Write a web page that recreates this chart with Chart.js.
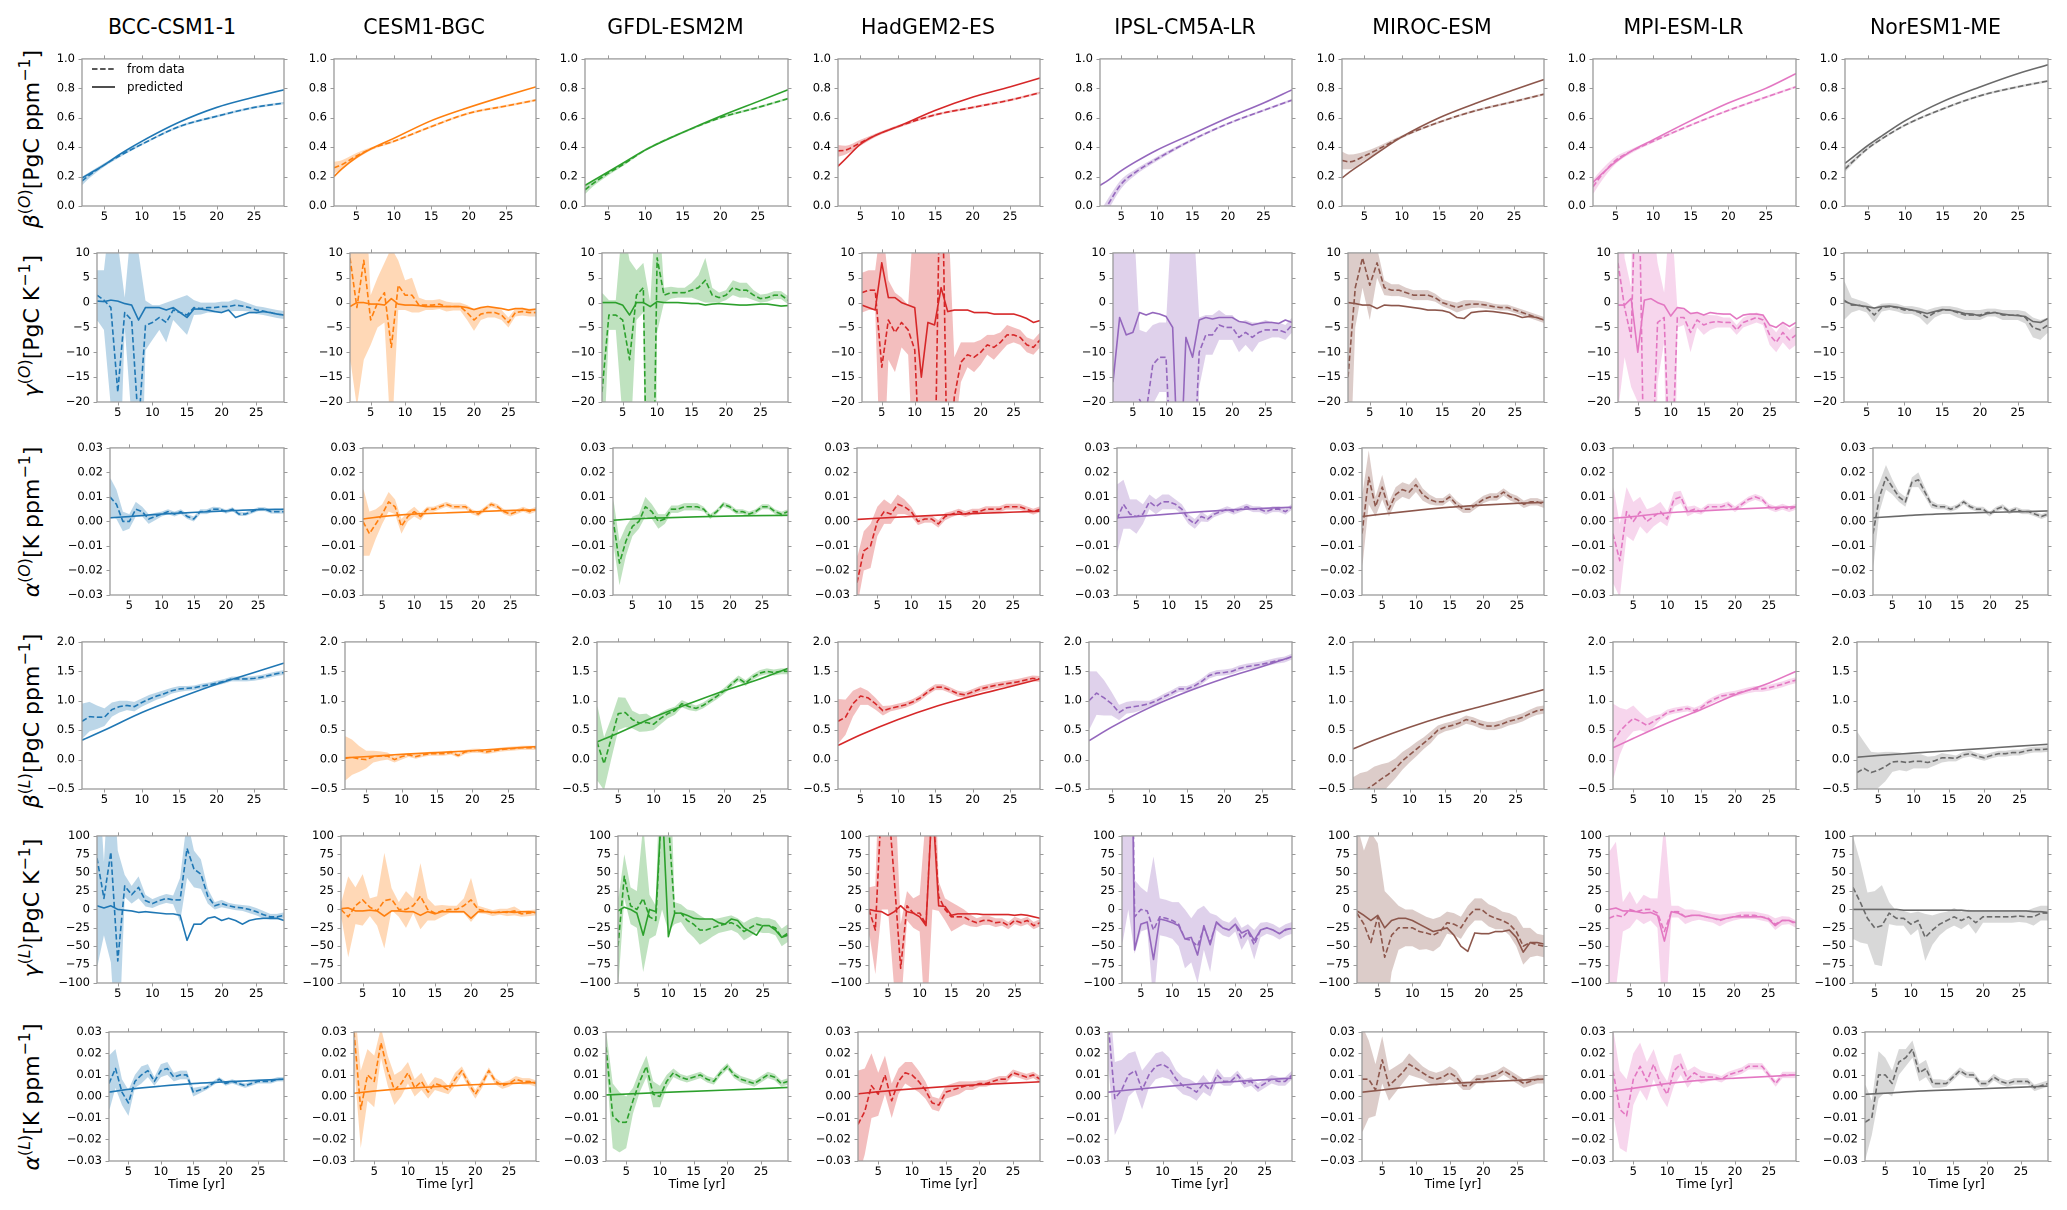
<!DOCTYPE html>
<html><head><meta charset="utf-8">
<script src="https://cdn.jsdelivr.net/npm/chart.js@4.4.1/dist/chart.umd.min.js"></script>
<style>
html,body{margin:0;padding:0;background:#fff;}
body{width:2067px;height:1210px;position:relative;overflow:hidden;font-family:"DejaVu Sans",sans-serif;color:#000;}
canvas{position:absolute;}
.title{position:absolute;font-size:20.5px;line-height:28px;text-align:center;white-space:nowrap;}
.ylab{position:absolute;font-size:22px;white-space:nowrap;transform:translate(-50%,-50%) rotate(-90deg);}
.ylab sup{font-size:72%;vertical-align:0.55em;line-height:0;}
.xlab{position:absolute;font-size:12.5px;line-height:16px;text-align:center;white-space:nowrap;}
.leg{position:absolute;font-size:11.8px;line-height:18px;white-space:nowrap;}
</style></head><body>
<script>
// ---------- categories / ticks ----------
const models = ["BCC-CSM1-1","CESM1-BGC","GFDL-ESM2M","HadGEM2-ES","IPSL-CM5A-LR","MIROC-ESM","MPI-ESM-LR","NorESM1-ME"];
const years = [2,3,4,5,6,7,8,9,10,11,12,13,14,15,16,17,18,19,20,21,22,23,24,25,26,27,28,29];
const row1Years = [2,3,5,7,10,15,20,25,29];
const smoothYears = [2,5,10,15,20,25,29];
const xTicks = [5,10,15,20,25];
const betaOTicks = [0,0.2,0.4,0.6,0.8,1.0];
const gammaOTicks = [-20,-15,-10,-5,0,5,10];
const alphaTicks = [-0.03,-0.02,-0.01,0,0.01,0.02,0.03];
const betaLTicks = [-0.5,0,0.5,1,1.5,2];
const gammaLTicks = [-100,-75,-50,-25,0,25,50,75,100];

// ---------- row 1: beta(O)  (x = row1Years) ----------
const BCC_bO_d = [0.17,0.21,0.28,0.34,0.42,0.54,0.61,0.67,0.70];
const BCC_bO_p = [0.19,0.22,0.28,0.35,0.44,0.57,0.67,0.74,0.79];
const BCC_bO_w = [0.03,0.02,0.012,0.01,0.008,0.008,0.008,0.008,0.008];
const CESM_bO_d = [0.26,0.28,0.34,0.39,0.44,0.54,0.63,0.68,0.72];
const CESM_bO_p = [0.20,0.25,0.33,0.39,0.46,0.58,0.67,0.75,0.81];
const CESM_bO_w = [0.04,0.03,0.02,0.01,0.008,0.008,0.008,0.008,0.008];
const GFDL_bO_d = [0.11,0.15,0.22,0.28,0.38,0.50,0.60,0.67,0.73];
const GFDL_bO_p = [0.14,0.17,0.23,0.29,0.38,0.50,0.61,0.71,0.79];
const GFDL_bO_w = [0.03,0.02,0.015,0.01,0.008,0.008,0.008,0.008,0.008];
const HadGEM_bO_d = [0.375,0.38,0.43,0.48,0.54,0.62,0.67,0.72,0.77];
const HadGEM_bO_p = [0.27,0.32,0.42,0.48,0.54,0.65,0.74,0.81,0.87];
const HadGEM_bO_w = [0.04,0.03,0.02,0.012,0.01,0.008,0.008,0.008,0.008];
const IPSL_bO_d = [-0.08,0.0,0.15,0.23,0.32,0.45,0.56,0.65,0.72];
const IPSL_bO_p = [0.14,0.17,0.24,0.30,0.38,0.49,0.60,0.70,0.79];
const IPSL_bO_w = [0.04,0.04,0.03,0.02,0.015,0.01,0.008,0.008,0.008];
const MIROC_bO_d = [0.31,0.30,0.34,0.39,0.47,0.57,0.65,0.71,0.76];
const MIROC_bO_p = [0.19,0.23,0.30,0.37,0.47,0.60,0.70,0.79,0.86];
const MIROC_bO_w = [0.06,0.05,0.03,0.02,0.01,0.008,0.008,0.008,0.008];
const MPI_bO_d = [0.13,0.20,0.31,0.37,0.44,0.55,0.65,0.74,0.81];
const MPI_bO_p = [0.16,0.21,0.30,0.37,0.45,0.58,0.70,0.80,0.90];
const MPI_bO_w = [0.05,0.04,0.025,0.015,0.01,0.008,0.008,0.008,0.008];
const NorESM_bO_d = [0.25,0.30,0.39,0.46,0.55,0.66,0.75,0.81,0.85];
const NorESM_bO_p = [0.29,0.33,0.41,0.48,0.58,0.71,0.81,0.90,0.96];
const NorESM_bO_w = [0.02,0.015,0.01,0.008,0.008,0.008,0.008,0.008,0.008];

// ---------- row 2: gamma(O)  (x = years) ----------
const BCC_gO_d = [1.5,0.5,-1,-18,-2,-3.5,-25,-4.6,-4,-3,-4,-1.5,-2,-2.5,-1,-1.2,-1,-1,-0.8,-0.8,-0.5,-0.7,-1,-1.5,-1.7,-2,-2.3,-2.5];
const BCC_gO_p = [0.3,0.2,0.5,0.3,-0.2,-0.5,-3.5,-1,-1,-1,-1.5,-1,-2,-3,-1.3,-1.3,-1.5,-1.8,-2,-1.5,-3,-2.5,-2,-2,-1.8,-2,-2.3,-2.5];
const BCC_gO_w = [5,6,20,30,3,20,35,5,3.5,2.5,4,2,3,4,1.5,1.2,1,1,1,1,1.2,1,0.8,0.8,0.8,0.8,0.8,0.8];
const CESM_gO_d = [9,-1,8.5,-3.5,0,2,-9,3.5,1.5,1.5,-0.5,-0.5,-0.5,-0.3,-0.8,-0.8,-0.8,-2,-3.5,-2.3,-2,-2,-2.5,-4,-2,-1.8,-2,-2];
const CESM_gO_p = [-0.8,0,0,-0.3,-0.3,-0.5,0.8,-0.3,-0.5,-0.5,-0.6,-0.8,-0.8,-0.8,-0.8,-0.8,-0.8,-1,-1.4,-1,-0.8,-1,-1.2,-1.5,-1.2,-1.2,-1.5,-1.3];
const CESM_gO_w = [20,20,20,5,5,6,20,5,3,3.5,1.5,1,1,1,1,0.8,0.8,1.5,2.2,1.2,1,1,1,1,0.8,0.8,0.8,0.8];
const GFDL_gO_d = [-18,-2.5,-2.5,-3.5,-11.5,1.5,3,-80,9,1.5,2,2,2,2.5,3,4.5,1.5,1,1.5,3,2.5,2.5,1.5,0.8,1,1.5,1.5,0.5];
const GFDL_gO_p = [0,0,0,-0.5,-2.5,0,0,-0.8,0.2,0,0,0,-0.1,-0.2,-0.2,-0.5,-0.3,-0.2,-0.3,-0.4,-0.5,-0.5,-0.4,-0.3,-0.3,-0.5,-0.7,-0.6];
const GFDL_gO_w = [20,3,3,20,20,5,5,80,15,1.5,1.2,1,1,1.5,2.5,4.5,1.5,1,1,1.5,1.5,1.5,1,0.8,0.8,0.8,0.8,0.8];
const HadGEM_gO_d = [2,2.5,2.5,-13,-3.5,-6,-4,-5.5,-9.5,-40,-40,-40,40,-40,-19,-12,-10.5,-11,-10,-8.5,-9,-8,-6.5,-6.5,-7,-8.5,-9,-7.5];
const HadGEM_gO_p = [-0.5,-1,-1.5,8,1,1,0,-0.5,-1,-15,-4,-4.5,3,-1.8,-1.5,-1.5,-1.5,-2,-2,-2,-2.3,-2.3,-2.3,-2.3,-2.7,-3.2,-4,-3.6];
const HadGEM_gO_w = [4,4,4,30,8,8,5,5,30,60,60,60,60,60,8,4,2.5,3,2.5,2,2.5,2,2,1.5,1.5,1.5,1.5,1.5];
const IPSL_gO_d = [-40,-40,-40,-40,-19.5,-22,-12.5,-11,-11,-40,-40,-40,-40,-10,-6.5,-6.5,-4.5,-5,-5,-7,-6,-7,-6,-5.5,-5.5,-5.5,-6,-4.5];
const IPSL_gO_p = [-16,-3,-6.5,-6,-2,-2.5,-2,-2.3,-2.8,-5,-40,-7,-11,-3.5,-3,-3.3,-3,-3,-3,-3.8,-4,-4.5,-4.2,-4,-4,-4.2,-3.5,-4];
const IPSL_gO_w = [60,60,60,60,14,16,8,7,7,60,60,60,60,7,4,4,3,2.5,2.5,3,2.5,3,2,2,1.5,1.5,1.5,1.5];
const MIROC_gO_d = [-15,3,9,3.5,8,3,2.5,2.5,2,1.5,1.5,1.5,1,0,-0.5,-1,-0.5,-0.3,-0.3,-0.5,-0.8,-1,-1,-1.5,-2,-2.5,-3,-3.5];
const MIROC_gO_p = [0,-0.2,-0.5,-0.5,-1.2,-0.5,-0.6,-0.6,-0.8,-1,-1.2,-1.5,-1.5,-1.6,-2,-3,-3.2,-2,-1.8,-1.7,-1.8,-2,-2.2,-2.5,-3,-2.8,-3,-3.5];
const MIROC_gO_w = [30,8,6,7,3,1.5,1.2,1.2,1,1,1,1,0.8,0.7,0.8,1,1,0.8,0.7,0.7,0.6,0.6,0.6,0.6,0.6,0.6,0.6,0.6];
const MPI_gO_d = [8,-1,-7,40,-40,-40,-4,-3,-40,-3,-3,-6,-3.5,-4.5,-4,-3.8,-4,-4,-5.5,-4,-3.5,-3,-3.5,-6.5,-8,-6,-7.5,-6.5];
const MPI_gO_p = [-0.5,-0.5,0.8,-10,0.5,0.8,0,-0.5,-2.7,-1,-1.2,-2.2,-2,-2.5,-2,-2.2,-2.3,-2.3,-3.3,-2.5,-2.3,-2.3,-2.5,-4.5,-5,-4,-4.8,-4];
const MPI_gO_w = [30,10,10,60,60,60,12,5,60,2,1.5,4,1.5,2,1.5,1.2,1,1,1,1,1,1,1,2,2,2,2,2];
const NorESM_gO_d = [0.5,-0.5,-0.5,-1,-2.5,-1,-0.8,-1,-1.5,-1.5,-2,-3,-2,-1.5,-1.5,-2,-2.5,-2.5,-2.5,-2,-2,-2.5,-2.5,-2.5,-3,-5,-5.5,-4.5];
const NorESM_gO_p = [0.3,-0.3,-0.6,-0.8,-1.1,-0.8,-0.7,-0.9,-1.2,-1.5,-1.8,-2.2,-1.8,-1.4,-1.5,-1.8,-2.2,-2.3,-2.7,-2.2,-2,-2.3,-2.5,-2.6,-2.8,-3.8,-4,-3.2];
const NorESM_gO_w = [4,1.5,1,1,1.5,0.8,0.7,0.8,0.8,0.8,1,1.5,1,0.8,0.8,1,1,1,1,0.8,0.8,1,1,1,1.2,2,2,1.5];

// ---------- row 3: alpha(O)  (data x = years, predicted x = smoothYears) ----------
const BCC_aO_d = [0.010,0.007,0.000,0.000,0.005,0.004,0.001,0.002,0.003,0.004,0.003,0.004,0.002,0.001,0.004,0.004,0.005,0.005,0.004,0.005,0.003,0.003,0.004,0.005,0.005,0.004,0.004,0.004];
const BCC_aO_p = [0.0015,0.002,0.003,0.0037,0.0043,0.0048,0.005];
const BCC_aO_w = [0.008,0.006,0.004,0.003,0.003,0.002,0.002,0.0015,0.001,0.001,0.001,0.001,0.001,0.001,0.001,0.001,0.001,0.0008,0.0008,0.0008,0.0008,0.0008,0.0008,0.0008,0.0008,0.0008,0.0008,0.0008];
const CESM_aO_d = [0.000,-0.005,-0.001,0.003,0.008,0.006,-0.002,0.002,0.004,0.002,0.005,0.005,0.006,0.007,0.006,0.006,0.006,0.004,0.003,0.005,0.007,0.006,0.004,0.003,0.004,0.005,0.004,0.005];
const CESM_aO_p = [0.001,0.002,0.003,0.0035,0.004,0.0045,0.0047];
const CESM_aO_w = [0.014,0.009,0.006,0.004,0.004,0.003,0.003,0.002,0.002,0.0015,0.001,0.001,0.001,0.001,0.001,0.001,0.001,0.001,0.001,0.001,0.001,0.001,0.001,0.001,0.001,0.001,0.001,0.001];
const GFDL_aO_d = [0.001,-0.017,-0.008,-0.002,0.000,0.006,0.004,0.000,0.001,0.005,0.005,0.006,0.006,0.006,0.005,0.002,0.004,0.007,0.006,0.004,0.004,0.003,0.004,0.006,0.006,0.004,0.003,0.004];
const GFDL_aO_p = [0.0005,0.001,0.0015,0.0019,0.0022,0.0024,0.0025];
const GFDL_aO_w = [0.009,0.009,0.006,0.004,0.003,0.004,0.003,0.003,0.002,0.0015,0.0015,0.0015,0.0015,0.0015,0.001,0.001,0.001,0.001,0.001,0.001,0.001,0.001,0.001,0.001,0.001,0.001,0.001,0.001];
const HadGEM_aO_d = [-0.025,-0.012,-0.010,0.000,0.004,0.003,0.007,0.006,0.004,0.000,0.001,0.001,-0.001,0.002,0.003,0.004,0.003,0.004,0.004,0.005,0.005,0.005,0.006,0.006,0.006,0.005,0.004,0.005];
const HadGEM_aO_p = [0.0008,0.0013,0.002,0.0027,0.0033,0.0038,0.0042];
const HadGEM_aO_w = [0.01,0.008,0.009,0.006,0.005,0.004,0.004,0.003,0.002,0.0015,0.0015,0.0015,0.0015,0.0015,0.0012,0.0012,0.0012,0.0012,0.0012,0.0012,0.0012,0.0012,0.0012,0.0012,0.0012,0.0012,0.0012,0.0012];
const IPSL_aO_d = [0.001,0.007,0.003,0.002,0.003,0.008,0.006,0.008,0.008,0.007,0.005,0.001,-0.001,0.002,0.001,0.003,0.004,0.005,0.004,0.005,0.006,0.005,0.005,0.004,0.005,0.005,0.004,0.006];
const IPSL_aO_p = [0.0015,0.002,0.003,0.004,0.0048,0.0054,0.0058];
const IPSL_aO_w = [0.014,0.01,0.006,0.007,0.004,0.003,0.003,0.003,0.003,0.002,0.002,0.002,0.002,0.002,0.0012,0.0012,0.0012,0.0012,0.0012,0.0012,0.0012,0.0012,0.0012,0.0012,0.0012,0.0012,0.0012,0.0012];
const MIROC_aO_d = [-0.005,0.018,0.006,0.014,0.005,0.011,0.013,0.012,0.015,0.011,0.009,0.008,0.008,0.010,0.007,0.005,0.005,0.007,0.009,0.010,0.010,0.012,0.010,0.009,0.007,0.008,0.008,0.007];
const MIROC_aO_p = [0.002,0.003,0.0045,0.0058,0.0067,0.0074,0.0078];
const MIROC_aO_w = [0.015,0.011,0.004,0.005,0.003,0.003,0.003,0.003,0.003,0.0025,0.002,0.0015,0.0015,0.0015,0.0015,0.0015,0.0015,0.0015,0.0015,0.0015,0.0015,0.0015,0.0015,0.0015,0.0015,0.0015,0.0015,0.0015];
const MPI_aO_d = [-0.005,-0.016,0.004,0.000,0.004,0.000,0.002,0.004,0.001,0.009,0.010,0.004,0.005,0.004,0.006,0.006,0.006,0.007,0.005,0.007,0.009,0.010,0.009,0.006,0.005,0.006,0.005,0.006];
const MPI_aO_p = [0.0013,0.002,0.0035,0.0043,0.005,0.0056,0.006];
const MPI_aO_w = [0.02,0.015,0.01,0.008,0.006,0.005,0.004,0.004,0.003,0.003,0.0025,0.002,0.0015,0.0012,0.0012,0.0012,0.0012,0.0012,0.0012,0.0012,0.0012,0.0012,0.0012,0.0012,0.0012,0.0012,0.0012,0.0012];
const NorESM_aO_d = [-0.005,0.010,0.018,0.014,0.010,0.008,0.016,0.017,0.012,0.007,0.006,0.006,0.005,0.006,0.008,0.006,0.005,0.005,0.003,0.005,0.006,0.004,0.005,0.004,0.004,0.003,0.002,0.003];
const NorESM_aO_p = [0.0015,0.002,0.0028,0.0033,0.0037,0.004,0.0043];
const NorESM_aO_w = [0.015,0.006,0.005,0.003,0.002,0.002,0.002,0.003,0.002,0.0015,0.001,0.001,0.001,0.001,0.001,0.001,0.001,0.001,0.001,0.001,0.001,0.001,0.001,0.001,0.001,0.001,0.001,0.001];

// ---------- row 4: beta(L) ----------
const BCC_bL_d = [0.65,0.73,0.72,0.72,0.85,0.90,0.92,0.90,0.97,1.03,1.08,1.12,1.17,1.20,1.21,1.22,1.25,1.27,1.30,1.33,1.37,1.37,1.37,1.38,1.40,1.43,1.46,1.48];
const BCC_bL_p = [0.33,0.50,0.80,1.05,1.28,1.48,1.64];
const BCC_bL_w = [0.3,0.25,0.2,0.15,0.12,0.1,0.08,0.08,0.07,0.07,0.06,0.06,0.05,0.05,0.04,0.04,0.04,0.04,0.04,0.04,0.04,0.04,0.04,0.04,0.04,0.04,0.04,0.04];
const CESM_bL_d = [0.02,0.04,0.01,0.0,0.05,0.06,0.06,0.0,0.05,0.08,0.05,0.08,0.10,0.10,0.10,0.12,0.07,0.13,0.15,0.15,0.13,0.15,0.17,0.18,0.19,0.20,0.20,0.20];
const CESM_bL_p = [0.03,0.05,0.09,0.12,0.15,0.19,0.22];
const CESM_bL_w = [0.38,0.3,0.22,0.15,0.1,0.08,0.06,0.05,0.05,0.035,0.035,0.035,0.035,0.035,0.035,0.035,0.035,0.035,0.035,0.035,0.035,0.035,0.035,0.035,0.035,0.035,0.035,0.035];
const GFDL_bL_d = [0.30,-0.07,0.35,0.78,0.80,0.68,0.62,0.63,0.60,0.70,0.78,0.83,0.95,0.90,0.87,0.92,1.00,1.08,1.17,1.28,1.38,1.30,1.40,1.47,1.50,1.48,1.50,1.50];
const GFDL_bL_p = [0.30,0.45,0.72,0.95,1.17,1.37,1.55];
const GFDL_bL_w = [0.65,0.45,0.35,0.28,0.25,0.15,0.15,0.15,0.1,0.1,0.08,0.07,0.06,0.06,0.05,0.05,0.05,0.05,0.05,0.05,0.05,0.05,0.05,0.05,0.05,0.05,0.05,0.05];
const HadGEM_bL_d = [0.65,0.72,0.95,1.08,1.05,0.95,0.83,0.87,0.90,0.93,0.98,1.05,1.15,1.23,1.23,1.18,1.12,1.10,1.15,1.20,1.23,1.26,1.28,1.30,1.32,1.35,1.38,1.37];
const HadGEM_bL_p = [0.24,0.42,0.68,0.90,1.08,1.24,1.37];
const HadGEM_bL_w = [0.38,0.3,0.22,0.15,0.12,0.1,0.08,0.05,0.05,0.05,0.05,0.05,0.05,0.05,0.05,0.05,0.05,0.05,0.05,0.05,0.05,0.05,0.05,0.05,0.05,0.05,0.05,0.05];
const IPSL_bL_d = [1.0,1.13,1.05,0.95,0.80,0.88,0.90,0.92,0.95,1.0,1.07,1.13,1.20,1.20,1.25,1.33,1.43,1.47,1.48,1.50,1.55,1.58,1.60,1.62,1.65,1.68,1.70,1.75];
const IPSL_bL_p = [0.32,0.55,0.88,1.15,1.38,1.58,1.75];
const IPSL_bL_w = [0.5,0.37,0.3,0.2,0.13,0.1,0.1,0.08,0.05,0.05,0.05,0.05,0.05,0.05,0.05,0.05,0.05,0.05,0.05,0.05,0.05,0.05,0.05,0.05,0.05,0.05,0.05,0.05];
const MIROC_bL_d = [-0.7,-0.6,-0.5,-0.42,-0.33,-0.25,-0.15,-0.02,0.08,0.18,0.28,0.38,0.50,0.55,0.58,0.62,0.68,0.65,0.60,0.57,0.57,0.60,0.65,0.68,0.72,0.78,0.83,0.85];
const MIROC_bL_p = [0.18,0.33,0.55,0.74,0.90,1.06,1.19];
const MIROC_bL_w = [0.4,0.37,0.3,0.3,0.25,0.2,0.17,0.15,0.13,0.12,0.1,0.1,0.08,0.07,0.07,0.07,0.07,0.07,0.07,0.07,0.07,0.07,0.07,0.07,0.07,0.07,0.07,0.07];
const MPI_bL_d = [0.30,0.48,0.60,0.70,0.65,0.58,0.65,0.72,0.80,0.83,0.85,0.87,0.83,0.88,0.97,1.03,1.08,1.10,1.12,1.15,1.18,1.20,1.20,1.22,1.25,1.28,1.32,1.35];
const MPI_bL_p = [0.20,0.36,0.62,0.85,1.10,1.30,1.50];
const MPI_bL_w = [0.65,0.4,0.25,0.22,0.15,0.12,0.1,0.05,0.05,0.05,0.05,0.05,0.05,0.05,0.05,0.05,0.05,0.05,0.05,0.05,0.05,0.05,0.05,0.05,0.05,0.05,0.05,0.05];
const NorESM_bL_d = [-0.22,-0.15,-0.22,-0.18,-0.12,-0.04,-0.03,-0.05,-0.03,-0.03,-0.05,-0.02,0.03,0.03,0.02,0.08,0.10,0.06,0.03,0.07,0.10,0.10,0.12,0.12,0.15,0.17,0.17,0.18];
const NorESM_bL_p = [0.04,0.07,0.11,0.15,0.19,0.23,0.26];
const NorESM_bL_w = [0.7,0.45,0.35,0.3,0.25,0.17,0.15,0.15,0.12,0.12,0.1,0.08,0.08,0.06,0.05,0.05,0.05,0.05,0.05,0.05,0.05,0.05,0.05,0.05,0.05,0.05,0.05,0.05];

// ---------- row 5: gamma(L) ----------
const BCC_gL_d = [70,15,78,-70,32,20,30,12,8,12,15,13,13,83,55,48,18,5,8,5,3,2,0,-3,-7,-10,-10,-8];
const BCC_gL_p = [5,2,5,0,-1,-2,-4,-3,-4,-5,-6,-6,-8,-42,-20,-20,-12,-10,-15,-12,-15,-20,-15,-13,-12,-12,-12,-15];
const BCC_gL_w = [150,50,150,150,15,12,15,8,6,6,6,6,30,40,25,20,10,5,5,4,4,4,5,5,5,4,4,4];
const CESM_gL_d = [0,-10,5,13,3,-2,12,14,0,0,5,18,0,-5,-2,0,0,5,13,0,-2,-5,-3,-4,-2,-6,-5,-4];
const CESM_gL_p = [1,2,-2,-2,-1,-2,-9,-2,-2,-3,-3,-8,-3,-6,-3,-3,-3,-3,-12,-3,-3,-4,-4,-3,-4,-3,-3,-4];
const CESM_gL_w = [8,55,25,35,12,20,65,15,10,25,10,45,15,10,8,5,5,10,30,5,4,4,4,5,6,4,4,4];
const GFDL_gL_d = [-50,45,5,0,15,-10,-15,150,120,-5,-5,-15,-20,-28,-28,-25,-22,-20,-18,-22,-30,-25,-20,-22,-22,-25,-38,-32];
const GFDL_gL_p = [-2,3,0,-5,-35,0,-3,150,-37,-5,-5,-8,-12,-13,-13,-13,-18,-20,-13,-15,-25,-30,-35,-22,-22,-28,-38,-35];
const GFDL_gL_w = [60,30,25,25,100,30,20,150,150,15,12,15,18,20,15,12,10,10,10,10,12,12,10,10,10,10,12,12];
const HadGEM_gL_d = [0,-28,150,150,40,-80,5,-5,-5,-20,150,18,0,-10,-10,-10,-15,-18,-15,-15,-18,-17,-22,-15,-18,-15,-22,-18];
const HadGEM_gL_p = [0,-2,-3,-8,-3,5,-3,-5,-10,-22,150,5,4,-8,-6,-6,-6,-6,-7,-7,-7,-7,-7,-8,-7,-8,-10,-12];
const HadGEM_gL_w = [30,60,150,150,150,60,20,20,25,150,150,20,15,20,15,10,8,6,6,6,6,5,5,5,5,5,5,5];
const IPSL_gL_d = [150,600,-10,0,-2,-28,-10,-12,-15,-20,-40,-42,-50,-25,-45,-18,-25,-28,-20,-40,-30,-48,-28,-25,-28,-33,-28,-25];
const IPSL_gL_p = [150,600,-55,-20,-17,-68,-13,-15,-18,-22,-40,-38,-62,-22,-48,-17,-25,-28,-20,-32,-28,-42,-28,-25,-28,-33,-27,-26];
const IPSL_gL_w = [200,600,50,30,25,100,25,25,25,30,40,30,50,30,40,10,10,10,10,15,10,20,10,8,8,8,8,8];
const MIROC_gL_d = [-5,-20,-45,-10,-65,-35,-25,-25,-25,-30,-32,-35,-30,-18,-20,-25,-10,0,0,-8,-12,-15,-20,-30,-50,-45,-48,-50];
const MIROC_gL_p = [-2,-8,-15,-8,-25,-15,-12,-12,-15,-20,-25,-30,-28,-25,-35,-50,-57,-32,-33,-33,-30,-30,-28,-38,-58,-45,-45,-47];
const MIROC_gL_w = [120,100,150,100,90,50,30,25,25,25,22,22,20,15,15,15,15,15,15,15,15,12,15,20,25,20,15,15];
const MPI_gL_d = [-12,-8,-10,0,-3,0,0,-5,-30,-3,-3,-10,-8,-8,-10,-12,-15,-12,-10,-8,-8,-8,-10,-12,-20,-15,-15,-20];
const MPI_gL_p = [0,2,-2,-2,-3,-5,-4,-8,-43,-3,-5,-10,-8,-8,-10,-12,-14,-12,-10,-10,-10,-10,-10,-13,-22,-15,-15,-18];
const MPI_gL_w = [90,100,20,25,10,20,15,20,150,8,8,10,8,6,6,6,8,6,5,5,5,5,5,5,8,6,5,5];
const NorESM_gL_d = [30,10,-12,-25,-22,-5,-12,-12,-20,-15,-38,-28,-20,-15,-10,-15,-10,-18,-10,-10,-10,-10,-10,-9,-10,-10,-5,-5];
const NorESM_gL_p = [0,0,0,0,0,0,0,-1,-1,-1,-1,-1,-1,-1,-1,-1,-2,-2,-2,-2,-2,-2,-2,-2,-2,-3,-3,-4];
const NorESM_gL_w = [70,55,35,50,55,15,10,10,15,12,32,20,15,12,12,12,10,15,8,8,8,8,8,8,8,12,10,10];

// ---------- row 6: alpha(L) ----------
const BCC_aL_d = [0.006,0.013,0.002,-0.003,0.007,0.010,0.012,0.007,0.012,0.013,0.009,0.010,0.010,0.002,0.003,0.004,0.006,0.008,0.006,0.007,0.006,0.005,0.006,0.007,0.007,0.007,0.008,0.008];
const BCC_aL_p = [0.002,0.0033,0.0048,0.006,0.0068,0.0075,0.008];
const BCC_aL_w = [0.013,0.009,0.006,0.006,0.003,0.004,0.003,0.002,0.003,0.003,0.002,0.002,0.002,0.002,0.0015,0.001,0.001,0.001,0.001,0.001,0.001,0.001,0.001,0.001,0.001,0.001,0.001,0.001];
const CESM_aL_d = [0.030,-0.006,0.010,0.007,0.025,0.012,0.003,0.006,0.011,0.004,0.007,0.002,0.006,0.005,0.003,0.008,0.012,0.006,0.001,0.006,0.012,0.007,0.005,0.006,0.008,0.007,0.007,0.006];
const CESM_aL_p = [0.0015,0.0025,0.0038,0.0047,0.0055,0.006,0.0065];
const CESM_aL_w = [0.015,0.018,0.012,0.012,0.007,0.007,0.007,0.006,0.005,0.004,0.004,0.003,0.003,0.003,0.002,0.003,0.002,0.002,0.002,0.002,0.0015,0.0015,0.0015,0.0015,0.0015,0.0015,0.0015,0.0015];
const GFDL_aL_d = [0.023,-0.009,-0.012,-0.012,-0.002,0.007,0.014,0.001,0.000,0.007,0.011,0.009,0.008,0.009,0.010,0.008,0.007,0.011,0.014,0.010,0.008,0.007,0.006,0.008,0.010,0.009,0.006,0.007];
const GFDL_aL_p = [0.0007,0.0011,0.0018,0.0024,0.003,0.0036,0.0042];
const GFDL_aL_w = [0.008,0.015,0.014,0.012,0.006,0.005,0.005,0.006,0.005,0.003,0.002,0.0015,0.0015,0.0015,0.0015,0.0015,0.0015,0.0015,0.0015,0.0015,0.0015,0.0015,0.0015,0.0015,0.0015,0.0015,0.0015,0.0015];
const HadGEM_aL_d = [-0.013,-0.007,0.005,0.001,0.010,-0.002,0.007,0.011,0.010,0.007,0.003,-0.003,-0.004,0.002,0.003,0.004,0.005,0.005,0.006,0.006,0.007,0.008,0.008,0.011,0.010,0.009,0.010,0.008];
const HadGEM_aL_p = [0.0012,0.0022,0.0035,0.0046,0.0055,0.0062,0.0068];
const HadGEM_aL_w = [0.025,0.02,0.015,0.01,0.009,0.008,0.006,0.005,0.006,0.005,0.004,0.003,0.003,0.003,0.003,0.003,0.002,0.002,0.0015,0.0015,0.0015,0.0015,0.0015,0.0015,0.0015,0.0015,0.0015,0.0015];
const IPSL_aL_d = [0.035,-0.001,0.003,0.010,0.012,0.003,0.010,0.014,0.015,0.013,0.008,0.005,0.004,0.002,0.006,0.003,0.010,0.007,0.007,0.010,0.006,0.007,0.004,0.006,0.008,0.007,0.007,0.010];
const IPSL_aL_p = [0.002,0.003,0.0045,0.0058,0.0068,0.0078,0.0085];
const IPSL_aL_w = [0.02,0.017,0.014,0.01,0.009,0.009,0.006,0.006,0.006,0.005,0.004,0.004,0.004,0.004,0.004,0.003,0.003,0.002,0.002,0.002,0.002,0.002,0.002,0.002,0.002,0.002,0.002,0.002];
const MIROC_aL_d = [0.008,0.008,0.003,0.017,0.005,0.008,0.011,0.015,0.013,0.011,0.009,0.008,0.009,0.011,0.009,0.005,0.005,0.008,0.008,0.009,0.010,0.012,0.010,0.008,0.006,0.007,0.008,0.008];
const MIROC_aL_p = [0.002,0.003,0.0048,0.006,0.0068,0.0075,0.008];
const MIROC_aL_w = [0.025,0.018,0.012,0.011,0.007,0.006,0.005,0.005,0.004,0.003,0.003,0.003,0.003,0.003,0.003,0.002,0.002,0.002,0.002,0.002,0.002,0.002,0.002,0.002,0.002,0.002,0.002,0.002];
const MPI_aL_d = [0.012,-0.006,-0.009,0.008,0.014,0.007,0.015,0.006,0.001,0.012,0.015,0.008,0.011,0.009,0.009,0.009,0.008,0.010,0.011,0.012,0.014,0.014,0.014,0.010,0.006,0.010,0.010,0.010];
const MPI_aL_p = [0.0025,0.0038,0.006,0.0075,0.0085,0.0093,0.010];
const MPI_aL_w = [0.02,0.018,0.017,0.012,0.011,0.009,0.007,0.006,0.006,0.007,0.005,0.004,0.003,0.003,0.002,0.0015,0.0015,0.0015,0.0015,0.0015,0.0015,0.0015,0.0015,0.0015,0.0015,0.0015,0.0015,0.0015];
const NorESM_aL_d = [-0.012,-0.010,0.010,0.010,0.006,0.016,0.018,0.022,0.011,0.013,0.006,0.006,0.006,0.009,0.012,0.010,0.010,0.006,0.006,0.009,0.007,0.006,0.007,0.007,0.007,0.004,0.005,0.006];
const NorESM_aL_p = [0.001,0.0015,0.0025,0.0031,0.0037,0.0043,0.0048];
const NorESM_aL_w = [0.018,0.008,0.011,0.008,0.006,0.006,0.004,0.004,0.004,0.004,0.002,0.002,0.0015,0.0015,0.0015,0.0015,0.0015,0.0015,0.0015,0.0015,0.0015,0.0015,0.0015,0.0015,0.0015,0.0015,0.0015,0.0015];

// ---------- table built from the arrays ----------
const table = {
  bO: [[BCC_bO_d,BCC_bO_p,BCC_bO_w],[CESM_bO_d,CESM_bO_p,CESM_bO_w],[GFDL_bO_d,GFDL_bO_p,GFDL_bO_w],[HadGEM_bO_d,HadGEM_bO_p,HadGEM_bO_w],[IPSL_bO_d,IPSL_bO_p,IPSL_bO_w],[MIROC_bO_d,MIROC_bO_p,MIROC_bO_w],[MPI_bO_d,MPI_bO_p,MPI_bO_w],[NorESM_bO_d,NorESM_bO_p,NorESM_bO_w]],
  gO: [[BCC_gO_d,BCC_gO_p,BCC_gO_w],[CESM_gO_d,CESM_gO_p,CESM_gO_w],[GFDL_gO_d,GFDL_gO_p,GFDL_gO_w],[HadGEM_gO_d,HadGEM_gO_p,HadGEM_gO_w],[IPSL_gO_d,IPSL_gO_p,IPSL_gO_w],[MIROC_gO_d,MIROC_gO_p,MIROC_gO_w],[MPI_gO_d,MPI_gO_p,MPI_gO_w],[NorESM_gO_d,NorESM_gO_p,NorESM_gO_w]],
  aO: [[BCC_aO_d,BCC_aO_p,BCC_aO_w],[CESM_aO_d,CESM_aO_p,CESM_aO_w],[GFDL_aO_d,GFDL_aO_p,GFDL_aO_w],[HadGEM_aO_d,HadGEM_aO_p,HadGEM_aO_w],[IPSL_aO_d,IPSL_aO_p,IPSL_aO_w],[MIROC_aO_d,MIROC_aO_p,MIROC_aO_w],[MPI_aO_d,MPI_aO_p,MPI_aO_w],[NorESM_aO_d,NorESM_aO_p,NorESM_aO_w]],
  bL: [[BCC_bL_d,BCC_bL_p,BCC_bL_w],[CESM_bL_d,CESM_bL_p,CESM_bL_w],[GFDL_bL_d,GFDL_bL_p,GFDL_bL_w],[HadGEM_bL_d,HadGEM_bL_p,HadGEM_bL_w],[IPSL_bL_d,IPSL_bL_p,IPSL_bL_w],[MIROC_bL_d,MIROC_bL_p,MIROC_bL_w],[MPI_bL_d,MPI_bL_p,MPI_bL_w],[NorESM_bL_d,NorESM_bL_p,NorESM_bL_w]],
  gL: [[BCC_gL_d,BCC_gL_p,BCC_gL_w],[CESM_gL_d,CESM_gL_p,CESM_gL_w],[GFDL_gL_d,GFDL_gL_p,GFDL_gL_w],[HadGEM_gL_d,HadGEM_gL_p,HadGEM_gL_w],[IPSL_gL_d,IPSL_gL_p,IPSL_gL_w],[MIROC_gL_d,MIROC_gL_p,MIROC_gL_w],[MPI_gL_d,MPI_gL_p,MPI_gL_w],[NorESM_gL_d,NorESM_gL_p,NorESM_gL_w]],
  aL: [[BCC_aL_d,BCC_aL_p,BCC_aL_w],[CESM_aL_d,CESM_aL_p,CESM_aL_w],[GFDL_aL_d,GFDL_aL_p,GFDL_aL_w],[HadGEM_aL_d,HadGEM_aL_p,HadGEM_aL_w],[IPSL_aL_d,IPSL_aL_p,IPSL_aL_w],[MIROC_aL_d,MIROC_aL_p,MIROC_aL_w],[MPI_aL_d,MPI_aL_p,MPI_aL_w],[NorESM_aL_d,NorESM_aL_p,NorESM_aL_w]]
};

// ---------- styles & layout ----------
const lineColors = ["#1f77b4","#ff7f0e","#2ca02c","#d62728","#9467bd","#8c564b","#e377c2","#6a6a6a"];
const bandColors = ["rgba(31,119,180,0.3)","rgba(255,127,14,0.3)","rgba(44,160,44,0.3)","rgba(214,39,40,0.3)","rgba(148,103,189,0.3)","rgba(140,86,75,0.3)","rgba(227,119,194,0.3)","rgba(127,127,127,0.3)"];
const rows = [
  {key:'bO', dX: row1Years, pX: row1Years, min:0, max:1, ticks: betaOTicks, dec:1, smoothD:true, smoothP:true, labShift:9,
   label:'<i>β</i><sup>(<i>O</i>)</sup>[PgC ppm<sup>−1</sup>]'},
  {key:'gO', dX: years, pX: years, min:-20, max:10, ticks: gammaOTicks, dec:0, smoothD:false, smoothP:false, labShift:1,
   label:'<i>γ</i><sup>(<i>O</i>)</sup>[PgC K<sup>−1</sup>]'},
  {key:'aO', dX: years, pX: smoothYears, min:-0.03, max:0.03, ticks: alphaTicks, dec:2, smoothD:false, smoothP:true, labShift:3,
   label:'<i>α</i><sup>(<i>O</i>)</sup>[K ppm<sup>−1</sup>]'},
  {key:'bL', dX: years, pX: smoothYears, min:-0.5, max:2, ticks: betaLTicks, dec:1, smoothD:false, smoothP:true, labShift:8,
   label:'<i>β</i><sup>(<i>L</i>)</sup>[PgC ppm<sup>−1</sup>]'},
  {key:'gL', dX: years, pX: years, min:-100, max:100, ticks: gammaLTicks, dec:0, smoothD:false, smoothP:false, labShift:1,
   label:'<i>γ</i><sup>(<i>L</i>)</sup>[PgC K<sup>−1</sup>]'},
  {key:'aL', dX: years, pX: smoothYears, min:-0.03, max:0.03, ticks: alphaTicks, dec:2, smoothD:false, smoothP:true, labShift:3,
   label:'<i>α</i><sup>(<i>L</i>)</sup>[K ppm<sup>−1</sup>]'}
];
const colRight = [284,536,788,1040,1292,1544,1796,2048];
const rowTop = [53,247,442,636,830,1026];
const rowBottom = [206,402,595,789,983,1161];
const plotLeft = [
  [82,334,585,838,1100,1342,1593,1845],
  [97,350,602,862,1113,1348,1618,1844],
  [110,363,613,857,1117,1362,1613,1873],
  [82,345,597,838,1089,1353,1613,1857],
  [97,341,618,869,1122,1357,1609,1853],
  [109,354,606,858,1108,1362,1613,1865]
];
const YW = 48, PT = 8, PR = 6, XH = 22;
const FONT = {family:'"DejaVu Sans", sans-serif', size:11.5};

function fmt(v, dec){
  if (Math.abs(v) < 1e-9) return (0).toFixed(dec);
  return (v < 0 ? '\u2212' : '') + Math.abs(v).toFixed(dec);
}

function makeFrame(yT){
  return {
    id:'frame',
    afterDraw(chart){
      const {ctx, chartArea:a, scales} = chart;
      const x = scales.x, y = scales.y;
      ctx.save();
      ctx.strokeStyle = '#9a9a9a';
      ctx.lineWidth = 1;
      ctx.beginPath();
      xTicks.forEach(t => { const px = Math.round(x.getPixelForValue(t))+0.5;
        ctx.moveTo(px, a.top); ctx.lineTo(px, a.top-3.5);
        ctx.moveTo(px, a.bottom); ctx.lineTo(px, a.bottom+3.5); });
      yT.forEach(t => { const py = Math.round(y.getPixelForValue(t))+0.5;
        ctx.moveTo(a.left, py); ctx.lineTo(a.left-3.5, py);
        ctx.moveTo(a.right, py); ctx.lineTo(a.right+3.5, py); });
      ctx.stroke();
      ctx.lineWidth = 1.3;
      ctx.strokeRect(a.left, a.top, a.right-a.left, a.bottom-a.top);
      ctx.restore();
    }
  };
}

rows.forEach((rc, r) => {
  const yl = document.createElement('div');
  yl.className = 'ylab';
  yl.innerHTML = rc.label;
  yl.style.left = '31px';
  yl.style.top = ((rowTop[r]+rowBottom[r])/2 + rc.labShift) + 'px';
  document.body.appendChild(yl);

  models.forEach((m, c) => {
    const [d, p, w] = table[rc.key][c];
    const L = plotLeft[r][c], R = colRight[c], T = rowTop[r], B = rowBottom[r];
    const W = R - L + YW + PR, H = B - T + PT + XH;
    const cv = document.createElement('canvas');
    cv.width = W; cv.height = H;
    cv.style.left = (L - YW) + 'px'; cv.style.top = (T - PT) + 'px';
    cv.style.width = W + 'px'; cv.style.height = H + 'px';
    document.body.appendChild(cv);

    const lo = d.map((v,i) => ({x: rc.dX[i], y: v - w[i]}));
    const hi = d.map((v,i) => ({x: rc.dX[i], y: v + w[i]}));
    const dat = d.map((v,i) => ({x: rc.dX[i], y: v}));
    const pre = p.map((v,i) => ({x: rc.pX[i], y: v}));
    const modeD = rc.smoothD ? 'monotone' : 'default';
    const modeP = rc.smoothP ? 'monotone' : 'default';

    new Chart(cv, {
      type: 'line',
      data: { datasets: [
        {data: lo, borderColor:'transparent', borderWidth:0, pointRadius:0, fill:false, order:3, cubicInterpolationMode: modeD},
        {data: hi, borderColor:'transparent', borderWidth:0, pointRadius:0, fill:'-1', backgroundColor: bandColors[c], order:3, cubicInterpolationMode: modeD},
        {data: dat, borderColor: lineColors[c], borderWidth:1.6, borderDash:[5.5,2.6], pointRadius:0, fill:false, order:2, cubicInterpolationMode: modeD},
        {data: pre, borderColor: lineColors[c], borderWidth:1.6, pointRadius:0, fill:false, order:1, cubicInterpolationMode: modeP}
      ]},
      options: {
        responsive:false, animation:false, devicePixelRatio:2,
        layout:{padding:{top:PT, right:PR, left:0, bottom:0}},
        plugins:{legend:{display:false}, tooltip:{enabled:false}, colors:{enabled:false}},
        elements:{point:{radius:0}, line:{borderJoinStyle:'round'}},
        scales:{
          x:{type:'linear', min:2, max:29, grid:{display:false, drawTicks:false, tickLength:0}, border:{display:false},
             afterBuildTicks: s => { s.ticks = xTicks.map(v => ({value:v})); },
             afterFit: s => { s.height = XH; },
             ticks:{font:FONT, color:'#000', padding:4, maxRotation:0, autoSkip:false, callback: v => String(v)}},
          y:{type:'linear', min:rc.min, max:rc.max, grid:{display:false, drawTicks:false, tickLength:0}, border:{display:false},
             afterBuildTicks: s => { s.ticks = rc.ticks.map(v => ({value:v})); },
             afterFit: s => { s.width = YW; },
             ticks:{font:FONT, color:'#000', padding:7, autoSkip:false, callback: v => fmt(v, rc.dec)}}
        }
      },
      plugins:[makeFrame(rc.ticks)]
    });

    if (r === 0) {
      const t = document.createElement('div');
      t.className = 'title';
      const cx = (L + R)/2 - 11;
      t.style.left = (cx - 126) + 'px'; t.style.width = '252px'; t.style.top = '13px';
      t.textContent = m;
      document.body.appendChild(t);
    }
    if (r === rows.length - 1) {
      const xl = document.createElement('div');
      xl.className = 'xlab';
      const cx = (L + R)/2;
      xl.style.left = (cx - 60) + 'px'; xl.style.width = '120px'; xl.style.top = '1176px';
      xl.textContent = 'Time [yr]';
      document.body.appendChild(xl);
    }
  });
});

// legend (first panel)
const leg = document.createElement('div');
leg.className = 'leg';
leg.style.left = '90px'; leg.style.top = '60px';
leg.innerHTML =
  '<div style="display:flex;align-items:center;height:18px"><svg width="30" height="6"><line x1="2" y1="3" x2="25" y2="3" stroke="#222" stroke-width="1.6" stroke-dasharray="5.5,2.6"/></svg><span style="margin-left:7px">from data</span></div>' +
  '<div style="display:flex;align-items:center;height:18px"><svg width="30" height="6"><line x1="2" y1="3" x2="25" y2="3" stroke="#222" stroke-width="1.6"/></svg><span style="margin-left:7px">predicted</span></div>';
document.body.appendChild(leg);
</script>
</body></html>
